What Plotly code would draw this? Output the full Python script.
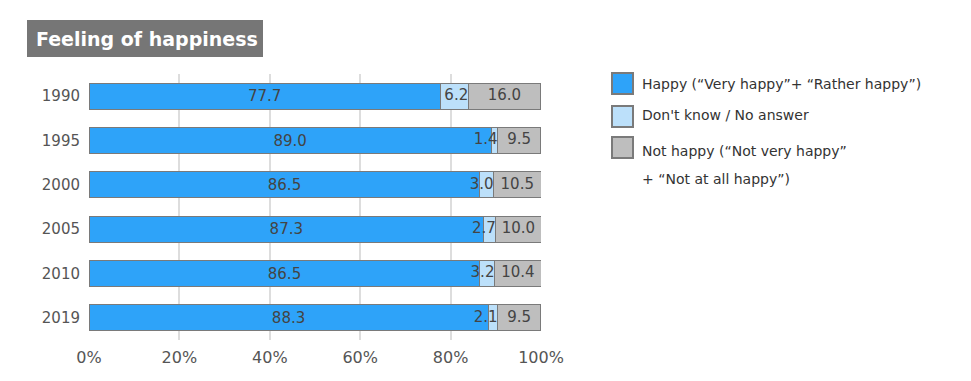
import plotly.graph_objects as go

years = ["1990", "1995", "2000", "2005", "2010", "2019"]
happy = [77.7, 89.0, 86.5, 87.3, 86.5, 88.3]
dontknow = [6.2, 1.4, 3.0, 2.7, 3.2, 2.1]
nothappy = [16.0, 9.5, 10.5, 10.0, 10.4, 9.5]
x_ticks = [0, 20, 40, 60, 80, 100]
x_ticklabels = ["0%", "20%", "40%", "60%", "80%", "100%"]
legend_labels = ["Happy (\u201cVery happy\u201d+ \u201cRather happy\u201d)",
                 "Don't know / No answer",
                 "Not happy (\u201cNot very happy\u201d",
                 "+ \u201cNot at all happy\u201d)"]
title_text = "Feeling of happiness"

C_HAPPY = "#2EA3F9"
C_DK = "#BCE0FA"
C_NOT = "#BEBEBE"
EDGE = "#7A7A7A"
FONT = "DejaVu Sans"
TXT = "#444444"

OFF = 8  # page body margin
W, H = 971 - OFF, 381 - OFF
L, R, T, B = 89 - OFF, 541 - OFF, 74 - OFF, 340 - OFF

fig = go.Figure()
fig.add_trace(go.Bar(y=years, x=happy, orientation="h", marker=dict(color=C_HAPPY, line=dict(color=EDGE, width=1)),
                     text=[f"{v:.1f}" for v in happy], textposition="inside", insidetextanchor="middle",
                     textfont=dict(family=FONT, size=15, color=TXT), constraintext="none", hoverinfo="skip"))
fig.add_trace(go.Bar(y=years, x=dontknow, orientation="h", marker=dict(color=C_DK, line=dict(color=EDGE, width=1)),
                     hoverinfo="skip"))
fig.add_trace(go.Bar(y=years, x=nothappy, orientation="h", marker=dict(color=C_NOT, line=dict(color=EDGE, width=1)),
                     hoverinfo="skip"))

# Don't know labels, right-aligned at the end of the segment
dk_end = [h + d for h, d in zip(happy, dontknow)]
fig.add_trace(go.Scatter(y=years, x=dk_end, mode="text", text=[f"{v:.1f}" for v in dontknow],
                         textposition="middle left", textfont=dict(family=FONT, size=15, color=TXT),
                         hoverinfo="skip", cliponaxis=False))
# Not happy labels, centred in their segment
nh_mid = [h + d + n / 2 for h, d, n in zip(happy, dontknow, nothappy)]
fig.add_trace(go.Scatter(y=years, x=nh_mid, mode="text", text=[f"{v:.1f}" for v in nothappy],
                         textposition="middle center", textfont=dict(family=FONT, size=15, color=TXT),
                         hoverinfo="skip", cliponaxis=False))

fig.update_layout(
    width=W, height=H,
    margin=dict(l=L, r=W - R, t=T, b=H - B, pad=0),
    barmode="stack", bargap=0.41,
    showlegend=False,
    plot_bgcolor="white", paper_bgcolor="white",
    font=dict(family=FONT, size=15, color="#555"),
    xaxis=dict(range=[0, 100], tickvals=x_ticks, ticktext=x_ticklabels, showgrid=True,
               gridcolor="#DDDDDD", gridwidth=2, zeroline=False, showline=False,
               ticks="outside", ticklen=3, tickcolor="rgba(0,0,0,0)",
               tickfont=dict(family=FONT, size=16, color="#555"), fixedrange=True),
    yaxis=dict(categoryorder="array", categoryarray=years, autorange="reversed",
               showgrid=False, zeroline=False, showline=False,
               ticks="outside", ticklen=5, tickcolor="rgba(0,0,0,0)",
               tickfont=dict(family=FONT, size=15, color="#555"), fixedrange=True),
)

def px(xp):
    return (xp - OFF - L) / (R - L)

def py(yp):
    return (B - (yp - OFF)) / (B - T)

# Title box
fig.add_shape(type="rect", xref="paper", yref="paper", x0=px(27), x1=px(263), y0=py(57), y1=py(20),
              fillcolor="#767676", line=dict(width=0), layer="above")
fig.add_annotation(xref="paper", yref="paper", x=px(34), y=py(39), xanchor="left", yanchor="middle",
                   text=f"<b>{title_text}</b>", showarrow=False,
                   font=dict(family=FONT, size=19, color="white"))

# Legend
sq = [(73, 94, C_HAPPY), (106, 127, C_DK), (137, 158, C_NOT)]
for y0, y1, c in sq:
    fig.add_shape(type="rect", xref="paper", yref="paper", x0=px(612), x1=px(633), y0=py(y1), y1=py(y0),
                  fillcolor=c, line=dict(color=EDGE, width=2))
for lab, yc in zip(legend_labels, [84, 115, 151, 179]):
    fig.add_annotation(xref="paper", yref="paper", x=px(640), y=py(yc), xanchor="left", yanchor="middle",
                       text=lab, showarrow=False, font=dict(family=FONT, size=14, color="#333"))

fig.write_html("out.html")
